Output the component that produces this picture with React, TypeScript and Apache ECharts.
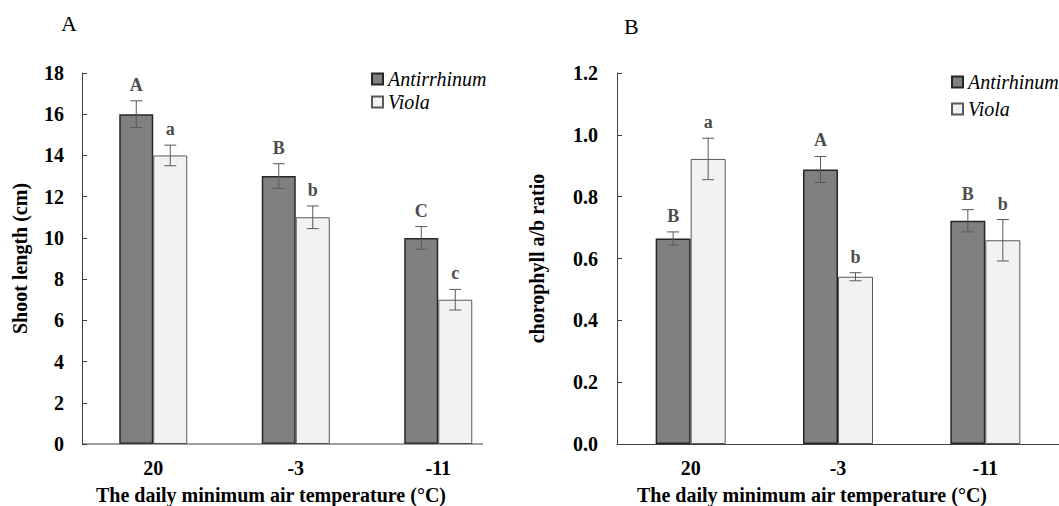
import React, { useEffect, useRef } from "react";
import * as echarts from "echarts";

const categories = ["20", "-3", "-11"];

const shootAnt = [16, 13, 10];
const shootAntErr = [0.65, 0.6, 0.55];
const shootAntLetters = ["A", "B", "C"];
const shootViola = [14, 11, 7];
const shootViolaErr = [0.5, 0.55, 0.5];
const shootViolaLetters = ["a", "b", "c"];

const chlAnt = [0.665, 0.888, 0.722];
const chlAntErr = [0.021, 0.042, 0.036];
const chlAntLetters = ["B", "A", "B"];
const chlViola = [0.922, 0.541, 0.659];
const chlViolaErr = [0.067, 0.013, 0.067];
const chlViolaLetters = ["a", "b", "b"];

const FONT = "Liberation Serif";
const AXIS_COLOR = "#404040";
const ERR_COLOR = "#595959";

function errSeries(name: string, axisIdx: number, vals: number[], errs: number[], letters: string[], offset: number) {
  return {
    type: "custom",
    name: name + "_err",
    xAxisIndex: axisIdx,
    yAxisIndex: axisIdx,
    z: 5,
    silent: true,
    clip: false,
    encode: { x: 0, y: 1 },
    data: vals.map((v, i) => [i, v, errs[i]]),
    renderItem: (params: any, api: any) => {
      const cat = api.value(0);
      const v = api.value(1);
      const e = api.value(2);
      const cx = api.coord([cat, v])[0] + offset;
      const yTop = api.coord([cat, v + e])[1];
      const yBot = api.coord([cat, v - e])[1];
      const cap = 6;
      const ls = { stroke: ERR_COLOR, lineWidth: 1 };
      return {
        type: "group",
        children: [
          { type: "line", shape: { x1: cx, y1: yTop, x2: cx, y2: yBot }, style: ls },
          { type: "line", shape: { x1: cx - cap, y1: yTop, x2: cx + cap, y2: yTop }, style: ls },
          { type: "line", shape: { x1: cx - cap, y1: yBot, x2: cx + cap, y2: yBot }, style: ls },
          {
            type: "text",
            x: cx,
            y: yTop - 7,
            style: {
              text: letters[params.dataIndex],
              fill: "#4d4d4d",
              fontFamily: FONT,
              fontWeight: "bold",
              fontSize: 18,
              align: "center",
              verticalAlign: "bottom",
            },
          },
        ],
      };
    },
  };
}

function barSeries(name: string, axisIdx: number, vals: number[], dark: boolean, width: number) {
  return {
    type: "bar",
    name,
    xAxisIndex: axisIdx,
    yAxisIndex: axisIdx,
    barWidth: width,
    barGap: "0%",
    data: vals,
    itemStyle: dark
      ? { color: "#808080", borderColor: "#262626", borderWidth: 1.5 }
      : { color: "#f2f2f2", borderColor: "#595959", borderWidth: 1 },
  };
}

export default function App() {
  const ref = useRef<HTMLDivElement>(null);
  useEffect(() => {
    document.body.style.margin = "0";
    const chart = echarts.init(ref.current!, null, { renderer: "svg" });
    const wA = 34;
    const wB = 35;
    const labelStyle = { fontFamily: FONT, fontWeight: "bold", fontSize: 20, color: "#000" };
    const yAxisCommon = {
      type: "value",
      nameLocation: "middle",
      nameRotate: 90,
      nameTextStyle: { ...labelStyle },
      axisLine: { show: true, lineStyle: { color: AXIS_COLOR, width: 1 } },
      axisTick: { show: true, inside: true, length: 5, lineStyle: { color: AXIS_COLOR } },
      splitLine: { show: false },
    };
    const xAxisCommon = {
      type: "category",
      data: categories,
      axisTick: { show: false },
      axisLabel: { ...labelStyle, margin: 14 },
    };
    const legendText = { fontFamily: FONT, fontStyle: "italic", fontWeight: "normal", fontSize: 20, color: "#000", lineHeight: 20 };
    const option: any = {
      animation: false,
      backgroundColor: "#fff",
      textStyle: { fontFamily: FONT },
      grid: [
        { left: 82, top: 73, width: 427.5, height: 371 },
        { left: 617, top: 73, width: 443, height: 371 },
      ],
      xAxis: [
        { ...xAxisCommon, gridIndex: 0, axisLine: { show: false } },
        { ...xAxisCommon, gridIndex: 1, axisLine: { show: true, lineStyle: { color: AXIS_COLOR, width: 1 } } },
      ],
      yAxis: [
        {
          ...yAxisCommon,
          gridIndex: 0,
          min: 0,
          max: 18,
          interval: 2,
          name: "Shoot length (cm)",
          nameGap: 52,
          axisLabel: { ...labelStyle, margin: 18 },
        },
        {
          ...yAxisCommon,
          gridIndex: 1,
          min: 0,
          max: 1.2,
          interval: 0.2,
          name: "chorophyll a/b ratio",
          nameGap: 70,
          axisLabel: { ...labelStyle, margin: 19, formatter: (v: number) => v.toFixed(1) },
        },
      ],
      legend: [
        {
          data: ["Antirrhinum", "Viola"],
          left: 366,
          top: 64,
          orient: "vertical",
          icon: "rect",
          itemWidth: 11,
          itemHeight: 11,
          itemGap: 3,
          textStyle: legendText,
        },
        {
          data: ["Antirhinum", "Viola "],
          left: 946,
          top: 67,
          orient: "vertical",
          icon: "rect",
          itemWidth: 11,
          itemHeight: 11,
          itemGap: 7,
          textStyle: legendText,
        },
      ],
      graphic: [
        { type: "line", shape: { x1: 82, y1: 444, x2: 483, y2: 444 }, style: { stroke: AXIS_COLOR, lineWidth: 1 }, z: 10 },
        { type: "text", left: 61, top: 12, style: { text: "A", fontFamily: FONT, fontSize: 22, fill: "#000" } },
        { type: "text", left: 624, top: 15, style: { text: "B", fontFamily: FONT, fontSize: 22, fill: "#000" } },
        {
          type: "text",
          x: 271,
          y: 495,
          style: {
            text: "The daily minimum air temperature (°C)",
            fontFamily: FONT,
            fontWeight: "bold",
            fontSize: 20,
            fill: "#000",
            align: "center",
            verticalAlign: "middle",
          },
        },
        {
          type: "text",
          x: 812,
          y: 495,
          style: {
            text: "The daily minimum air temperature (°C)",
            fontFamily: FONT,
            fontWeight: "bold",
            fontSize: 20,
            fill: "#000",
            align: "center",
            verticalAlign: "middle",
          },
        },
      ],
      series: [
        barSeries("Antirrhinum", 0, shootAnt, true, wA),
        barSeries("Viola", 0, shootViola, false, wA),
        errSeries("Antirrhinum", 0, shootAnt, shootAntErr, shootAntLetters, -wA / 2),
        errSeries("Viola", 0, shootViola, shootViolaErr, shootViolaLetters, wA / 2),
        barSeries("Antirhinum", 1, chlAnt, true, wB),
        barSeries("Viola ", 1, chlViola, false, wB),
        errSeries("Antirhinum", 1, chlAnt, chlAntErr, chlAntLetters, -wB / 2),
        errSeries("Viola ", 1, chlViola, chlViolaErr, chlViolaLetters, wB / 2),
      ],
    };
    chart.setOption(option);
    return () => chart.dispose();
  }, []);
  return <div ref={ref} style={{ position: "fixed", left: 0, top: 0, width: 1059, height: 506 }} />;
}
